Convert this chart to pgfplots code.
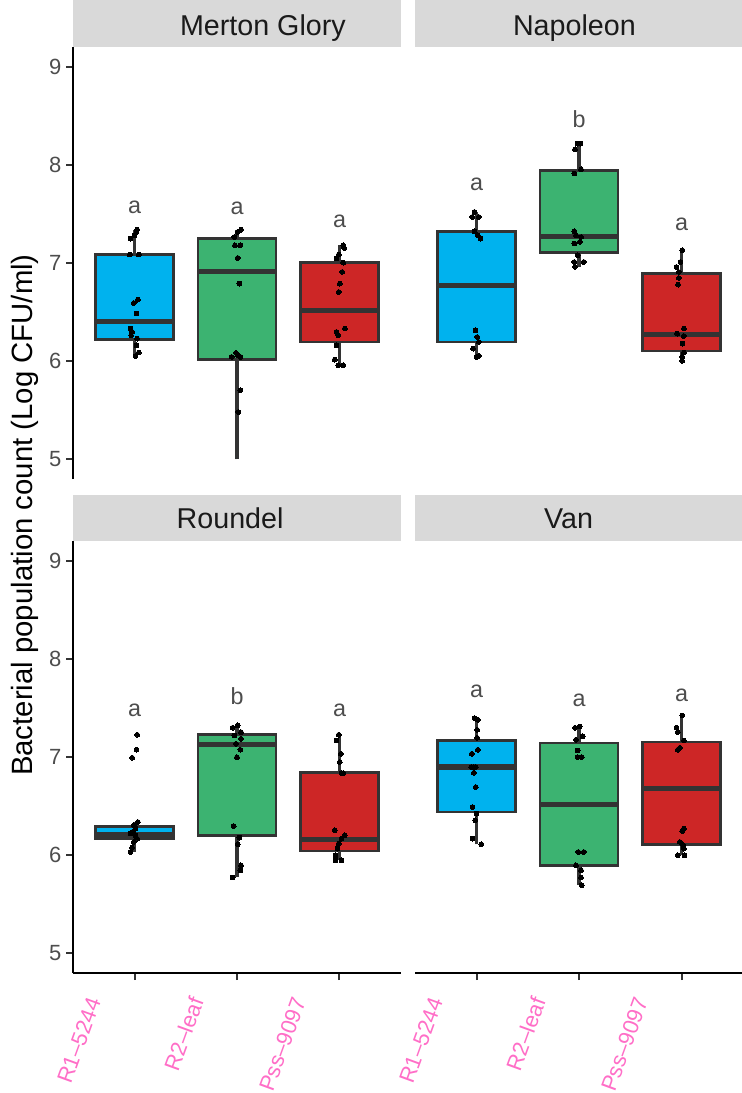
\documentclass[border=0pt]{standalone}
\usepackage{fontspec}
\setmainfont{Liberation Sans}
\usepackage{pgfplots}
\pgfplotsset{compat=1.18}
\usepgfplotslibrary{statistics}
\definecolor{cblue}{RGB}{0,178,238}
\definecolor{cgreen}{RGB}{60,179,113}
\definecolor{cred}{RGB}{205,38,38}
\definecolor{gtwenty}{RGB}{51,51,51}
\definecolor{gthirty}{RGB}{77,77,77}
\definecolor{gstrip}{RGB}{217,217,217}
\definecolor{gten}{RGB}{26,26,26}
\definecolor{cpink}{RGB}{255,110,199}
\pgfplotsset{
  boxplot/every whisker/.style={line width=2.2pt},
  panel/.style={scale only axis, width=246pt, height=324pt,
    xmin=0.4, xmax=3.6, ymin=4.8, ymax=9.2,
    axis lines*=left, axis line style={black, line width=1.9pt},
    tick align=outside, major tick length=5.25pt,
    tick style={gtwenty, line width=1.5pt},
    xtick={1,2,3}, xticklabels={R1--5244,R2--leaf,Pss--9097},
    ytick={5,6,7,8,9},
    /pgf/number format/assume math mode=true,
    yticklabel style={font=\fontsize{16.5}{18}\selectfont, text=gthirty},
    xticklabel style={font=\fontsize{16.5}{18}\selectfont, text=cpink, xshift=-29pt, yshift=-10.5pt, rotate=70, anchor=east},
    clip=false},
  bx/.style={boxplot prepared={#1, box extend=0.76, whisker extend=0}, boxplot/draw direction=y,
    draw=gtwenty, line width=1.9pt,
    boxplot/every median/.style={line width=3.8pt}},
  wh/.style={draw=gtwenty, line width=2.4pt, mark=none},
  pts/.style={only marks, mark=*, mark size=1.8pt, black, mark options={line width=0pt}},
}
\tikzset{
  lt/.style={text=gthirty, font=\fontsize{17.5}{19}\selectfont},
  st/.style={font=\fontsize{21.5}{24}\selectfont, text=gten, anchor=base},
}
\begin{document}
\begin{tikzpicture}
\useasboundingbox (0,0) rectangle (556.5pt,-819.75pt);
% ---------------- Merton Glory ----------------
\begin{axis}[panel, at={(54.75pt,-359.25pt)}, anchor=south west, hide x axis]
\fill[gstrip] (rel axis cs:0,1) rectangle ([yshift=35.25pt]rel axis cs:1,1);
\node[st] at ([yshift=9pt]rel axis cs:0.579,1) {Merton Glory};
\addplot[wh] coordinates {(1,6.054)(1,7.34)};
\addplot[wh] coordinates {(2,5.0)(2,7.34)};
\addplot[wh] coordinates {(3,5.959)(3,7.181)};
\addplot[bx={draw position=1, lower whisker=6.054, lower quartile=6.22, median=6.40, upper quartile=7.086, upper whisker=7.34}, fill=cblue] coordinates {};
\addplot[bx={draw position=2, lower whisker=5.0, lower quartile=6.016, median=6.916, upper quartile=7.248, upper whisker=7.34}, fill=cgreen] coordinates {};
\addplot[bx={draw position=3, lower whisker=5.959, lower quartile=6.196, median=6.515, upper quartile=7.004, upper whisker=7.181}, fill=cred] coordinates {};
\addplot[pts] coordinates {(1.026,7.340)(1.020,7.316)(1.000,7.282)(0.960,7.248)(0.954,7.086)(1.042,7.086)(1.033,6.627)(0.993,6.593)(1.020,6.485)(0.960,6.332)(0.977,6.298)(0.967,6.264)(1.026,6.230)(1.020,6.162)(1.042,6.088)(1.010,6.054)};
\addplot[pts] coordinates {(2.040,7.340)(2.007,7.316)(1.974,7.265)(1.980,7.181)(2.033,7.181)(2.007,7.052)(2.023,6.790)(1.948,6.044)(1.990,6.084)(2.033,6.044)(2.007,6.060)(2.033,5.704)(2.013,5.483)};
\addplot[pts] coordinates {(3.036,7.181)(3.046,7.153)(2.993,7.086)(2.970,7.045)(3.036,7.004)(3.026,6.909)(3.003,6.790)(2.993,6.705)(3.052,6.332)(2.970,6.298)(2.987,6.264)(2.970,6.162)(2.954,6.016)(2.987,5.959)(3.036,5.959)};
\node[lt] at (axis cs:1,7.564) {a};
\node[lt] at (axis cs:2,7.561) {a};
\node[lt] at (axis cs:3,7.425) {a};
\end{axis}
% ---------------- Napoleon ----------------
\begin{axis}[panel, at={(311.25pt,-359.25pt)}, anchor=south west, hide x axis, hide y axis]
\fill[gstrip] (rel axis cs:0,1) rectangle ([yshift=35.25pt]rel axis cs:1,1);
\node[st] at ([yshift=9pt]rel axis cs:0.486,1) {Napoleon};
\addplot[wh] coordinates {(1,6.054)(1,7.520)};
\addplot[wh] coordinates {(2,6.960)(2,8.216)};
\addplot[wh] coordinates {(3,6.003)(3,7.130)};
\addplot[bx={draw position=1, lower whisker=6.054, lower quartile=6.196, median=6.773, upper quartile=7.323, upper whisker=7.520}, fill=cblue] coordinates {};
\addplot[bx={draw position=2, lower whisker=6.960, lower quartile=7.106, median=7.272, upper quartile=7.944, upper whisker=8.216}, fill=cgreen] coordinates {};
\addplot[bx={draw position=3, lower whisker=6.003, lower quartile=6.105, median=6.274, upper quartile=6.892, upper whisker=7.130}, fill=cred] coordinates {};
\addplot[pts] coordinates {(0.980,7.520)(0.958,7.469)(1.023,7.469)(0.980,7.323)(1.013,7.282)(1.039,7.248)(0.990,6.315)(1.007,6.247)(1.023,6.196)(0.967,6.128)(1.023,6.054)(1.000,6.044)};
\addplot[pts] coordinates {(1.987,8.216)(2.013,8.216)(1.961,8.158)(2.020,7.955)(1.954,7.911)(1.954,7.323)(1.970,7.282)(2.020,7.265)(1.954,7.198)(2.007,7.215)(1.987,7.079)(1.954,7.011)(2.046,7.011)(1.961,6.960)};
\addplot[pts] coordinates {(3.007,7.130)(2.951,6.960)(2.990,7.011)(2.974,6.909)(2.974,6.848)(2.967,6.780)(3.023,6.332)(2.958,6.281)(3.023,6.257)(3.010,6.179)(3.023,6.088)(3.007,6.044)(3.007,6.003)};
\node[lt] at (axis cs:1,7.798) {a};
\node[lt] at (axis cs:2,8.470) {b};
\node[lt] at (axis cs:3,7.391) {a};
\end{axis}
% ---------------- Roundel ----------------
\begin{axis}[panel, at={(54.75pt,-729.75pt)}, anchor=south west]
\fill[gstrip] (rel axis cs:0,1) rectangle ([yshift=34.5pt]rel axis cs:1,1);
\node[st] at ([yshift=9.3pt]rel axis cs:0.479,1) {Roundel};
\addplot[wh] coordinates {(1,6.033)(1,6.338)};
\addplot[wh] coordinates {(2,5.779)(2,7.322)};
\addplot[wh] coordinates {(3,5.948)(3,7.227)};
\addplot[bx={draw position=1, lower whisker=6.033, lower quartile=6.168, median=6.215, upper quartile=6.294, upper whisker=6.338}, fill=cblue] coordinates {};
\addplot[bx={draw position=2, lower whisker=5.779, lower quartile=6.202, median=7.128, upper quartile=7.227, upper whisker=7.322}, fill=cgreen] coordinates {};
\addplot[bx={draw position=3, lower whisker=5.948, lower quartile=6.043, median=6.158, upper quartile=6.840, upper whisker=7.227}, fill=cred] coordinates {};
\addplot[pts] coordinates {(1.026,7.227)(1.020,7.074)(0.977,6.993)(1.033,6.338)(0.993,6.304)(1.010,6.270)(0.977,6.236)(1.010,6.202)(0.960,6.220)(1.026,6.168)(0.993,6.135)(0.977,6.077)(0.960,6.033)};
\addplot[pts] coordinates {(2.007,7.322)(1.958,7.298)(2.039,7.254)(1.974,7.220)(2.039,7.186)(1.990,7.135)(2.033,7.074)(2.000,6.999)(1.967,6.297)(2.023,6.179)(2.007,6.111)(2.039,5.897)(2.033,5.846)(1.958,5.772)};
\addplot[pts] coordinates {(2.993,7.227)(2.970,7.169)(3.013,7.033)(3.003,6.949)(3.020,6.837)(3.036,6.837)(2.954,6.253)(3.052,6.202)(3.020,6.168)(2.993,6.118)(2.980,6.067)(2.961,5.999)(3.020,5.948)(2.961,5.948)};
\node[lt] at (axis cs:1,7.474) {a};
\node[lt] at (axis cs:2,7.617) {b};
\node[lt] at (axis cs:3,7.474) {a};
\end{axis}
% ---------------- Van ----------------
\begin{axis}[panel, at={(311.25pt,-729.75pt)}, anchor=south west, hide y axis]
\fill[gstrip] (rel axis cs:0,1) rectangle ([yshift=34.5pt]rel axis cs:1,1);
\node[st] at ([yshift=9.3pt]rel axis cs:0.468,1) {Van};
\addplot[wh] coordinates {(1,6.111)(1,7.396)};
\addplot[wh] coordinates {(2,5.694)(2,7.322)};
\addplot[wh] coordinates {(3,5.999)(3,7.423)};
\addplot[bx={draw position=1, lower whisker=6.111, lower quartile=6.440, median=6.898, upper quartile=7.169, upper whisker=7.396}, fill=cblue] coordinates {};
\addplot[bx={draw position=2, lower whisker=5.694, lower quartile=5.897, median=6.514, upper quartile=7.145, upper whisker=7.322}, fill=cgreen] coordinates {};
\addplot[bx={draw position=3, lower whisker=5.999, lower quartile=6.111, median=6.677, upper quartile=7.152, upper whisker=7.423}, fill=cred] coordinates {};
\addplot[pts] coordinates {(0.980,7.396)(1.013,7.379)(1.007,7.277)(1.007,7.196)(1.013,7.074)(0.954,7.033)(0.948,6.898)(0.974,6.898)(0.993,6.898)(0.974,6.840)(0.993,6.694)(0.961,6.491)(1.000,6.423)(0.987,6.355)(0.961,6.169)(1.046,6.111)};
\addplot[pts] coordinates {(1.961,7.298)(2.007,7.311)(2.036,7.210)(1.970,7.176)(1.987,7.067)(1.987,6.999)(2.026,6.999)(1.993,6.033)(2.046,6.033)(1.970,5.897)(2.020,5.846)(2.020,5.772)(2.026,5.694)};
\addplot[pts] coordinates {(3.007,7.423)(2.951,7.298)(2.964,7.254)(3.023,7.169)(2.984,7.094)(2.964,7.074)(3.023,6.270)(3.007,6.246)(2.984,6.135)(3.016,6.101)(3.023,6.067)(2.964,5.999)(3.029,5.999)};
\node[lt] at (axis cs:1,7.667) {a};
\node[lt] at (axis cs:2,7.576) {a};
\node[lt] at (axis cs:3,7.626) {a};
\end{axis}
\node[rotate=90, anchor=base, font=\fontsize{22}{24}\selectfont] at (24pt,-386.25pt) {Bacterial population count (Log CFU/ml)};
\end{tikzpicture}
\end{document}
